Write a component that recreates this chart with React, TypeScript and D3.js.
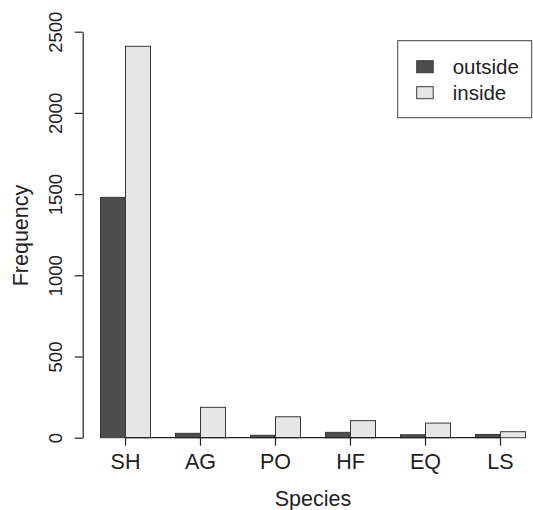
import { useRef, useEffect } from "react";
import * as d3 from "d3";

const species = ["SH", "AG", "PO", "HF", "EQ", "LS"];
const groups = ["outside", "inside"];
const outside = [1480, 27, 15, 33, 18, 20];
const inside = [2410, 187, 129, 105, 90, 37];
const yTicks = [0, 500, 1000, 1500, 2000, 2500];
const colors = ["#4d4d4d", "#e6e6e6"];

const FONT = "'Liberation Sans', Arial, Helvetica, sans-serif";

function App() {
  const svgRef = useRef<SVGSVGElement>(null);

  useEffect(() => {
    const w = 533;
    const h = 510;
    const svg = d3.select(svgRef.current).attr("width", w).attr("height", h);
    svg.selectAll("*").remove();
    svg.style("font-family", FONT);

    // scales
    const x = d3
      .scaleBand()
      .domain(species)
      .range([100.5, 525.5])
      .paddingInner(1 / 3)
      .paddingOuter(0);
    const xInner = d3.scaleBand().domain(groups).range([0, x.bandwidth()]);
    const y = d3.scaleLinear().domain([0, 2500]).range([437.7, 31.7]);

    const rows = species.map((s, i) => ({ s, vals: [outside[i], inside[i]] }));

    // bars
    const g = svg
      .selectAll(".grp")
      .data(rows)
      .join("g")
      .attr("transform", (d) => `translate(${x(d.s)},0)`);
    g.selectAll("rect")
      .data((d) => d.vals.map((v, k) => ({ v, k })))
      .join("rect")
      .attr("x", (d) => xInner(groups[d.k])!)
      .attr("y", (d) => y(d.v))
      .attr("width", xInner.bandwidth())
      .attr("height", (d) => y(0) - y(d.v))
      .attr("fill", (d) => colors[d.k])
      .attr("stroke", "#3a3a3a")
      .attr("stroke-width", 1);

    // y axis
    const yAxis = d3
      .axisLeft(y)
      .tickValues(yTicks)
      .tickFormat(d3.format("d"))
      .tickSize(8)
      .tickSizeOuter(0);
    const ya = svg.append("g").attr("transform", "translate(82.7,0)").call(yAxis);
    ya.select(".domain").attr("stroke", "#222").attr("stroke-width", 1.2);
    ya.selectAll(".tick line").attr("stroke", "#222").attr("stroke-width", 1.2);
    ya.selectAll(".tick text")
      .attr("x", 0)
      .attr("y", -21)
      .attr("dy", 0)
      .attr("transform", "rotate(-90)")
      .attr("text-anchor", "middle")
      .attr("font-size", 18.5)
      .attr("font-family", FONT)
      .attr("fill", "#222");

    // x axis
    const xAxis = d3.axisBottom(x).tickSize(8).tickSizeOuter(0);
    const xa = svg.append("g").attr("transform", `translate(0,${y(0)})`).call(xAxis);
    xa.select(".domain").remove();
    const first = x(species[0])! + x.bandwidth() / 2;
    const last = x(species[species.length - 1])! + x.bandwidth() / 2;
    xa.append("line")
      .attr("x1", first)
      .attr("x2", last)
      .attr("stroke", "#222")
      .attr("stroke-width", 1.2);
    xa.selectAll(".tick line").attr("stroke", "#222").attr("stroke-width", 1.2);
    xa.selectAll(".tick text")
      .attr("y", 31.5)
      .attr("dy", 0)
      .attr("font-size", 21.5)
      .attr("font-family", FONT)
      .attr("fill", "#222");

    // axis titles
    svg
      .append("text")
      .attr("x", 313)
      .attr("y", 506)
      .attr("text-anchor", "middle")
      .attr("font-size", 21.5)
      .attr("fill", "#222")
      .text("Species");
    svg
      .append("text")
      .attr("transform", "translate(28.3,235.5) rotate(-90)")
      .attr("text-anchor", "middle")
      .attr("font-size", 21.5)
      .attr("fill", "#222")
      .text("Frequency");

    // legend
    const lg = svg.append("g").attr("transform", "translate(397.7,40.7)");
    lg.append("rect")
      .attr("width", 134)
      .attr("height", 77)
      .attr("fill", "white")
      .attr("stroke", "#444");
    groups.forEach((name, k) => {
      lg.append("rect")
        .attr("x", 19)
        .attr("y", 20 + k * 26)
        .attr("width", 16.5)
        .attr("height", 12)
        .attr("fill", colors[k])
        .attr("stroke", "#3a3a3a");
      lg.append("text")
        .attr("x", 55)
        .attr("y", 33.5 + k * 26)
        .attr("font-size", 20.5)
        .attr("fill", "#222")
        .text(name);
    });
  }, []);

  return (
    <svg
      ref={svgRef}
      style={{ position: "absolute", left: 0, top: 0, background: "white" }}
    ></svg>
  );
}

export default App;
